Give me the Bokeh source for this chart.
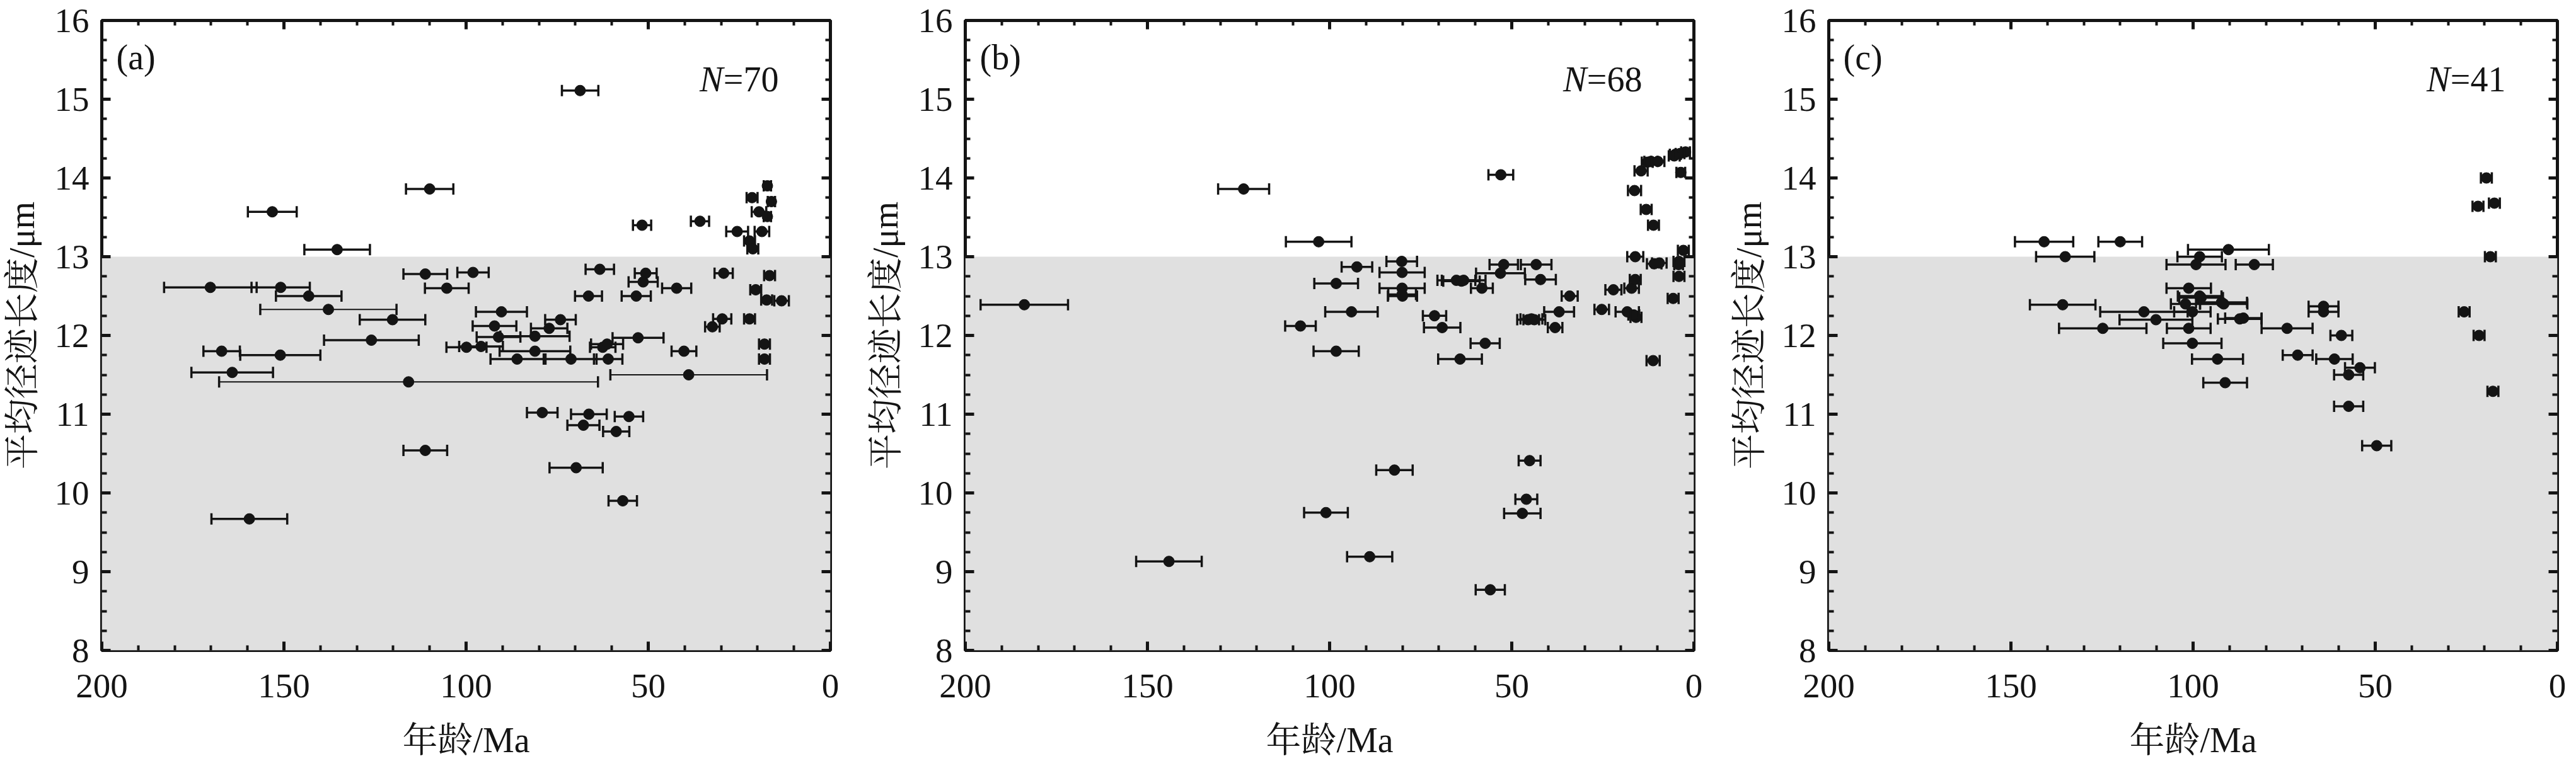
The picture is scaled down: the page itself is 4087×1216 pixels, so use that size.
import numpy as np
from bokeh.plotting import figure
from bokeh.models import (Range1d, LinearAxis, BoxAnnotation, Whisker, TeeHead,
                          ColumnDataSource, Label, FixedTicker, CustomJSTickFormatter)
from bokeh.layouts import row
from bokeh.embed import file_html
from bokeh.resources import INLINE

# ---------------- data ----------------
x_ticks = [0, 50, 100, 150, 200]
y_ticks = [8, 9, 10, 11, 12, 13, 14, 15, 16]
x_label = "年龄/Ma"
y_label = "平均径迹长度/μm"
panel_tags = ["(a)", "(b)", "(c)"]
panel_n = ["70", "68", "41"]
threshold_length = 13

age_a = [68.7, 110.0, 153.2, 135.4, 51.7, 35.8, 25.6, 21.5, 17.3, 16.2,
         19.6, 17.3, 18.8, 22.2, 21.3, 63.3, 111.2, 98.1, 50.7, 29.3,
         16.7, 170.2, 150.9, 143.2, 105.3, 51.4, 42.2, 66.4, 53.3, 20.5,
         17.5, 13.4, 137.8, 90.3, 120.2, 74.1, 77.2, 92.2, 91.1, 81.1,
         126.0, 52.8, 29.7, 32.4, 22.2, 167.1, 151.0, 99.9, 95.9, 81.1,
         62.5, 61.3, 40.2, 18.1, 18.1, 86.0, 71.2, 61.0, 164.2, 115.8,
         38.9, 79.1, 66.3, 55.3, 67.8, 58.8, 111.2, 69.8, 57.0, 159.5]
err_a = [5, 6.5, 6.7, 9, 2.5, 2.5, 3, 1.5, 1, 1,
         2, 1, 2, 1.5, 1.5, 3.9, 6, 4.3, 3, 2.5,
         1.5, 12.7, 8, 9, 6, 4, 4, 3.7, 4, 1.5,
         1.5, 2, 18.7, 7, 9, 4.2, 5, 6, 6, 9.5,
         13, 7, 2.5, 2, 1.5, 5, 11, 5.5, 6, 9.7,
         3.5, 4.4, 3.4, 1.5, 1.5, 7.3, 7, 3.9, 11.2, 52,
         21.5, 4.2, 4.9, 3.9, 4.4, 3.6, 6, 7.3, 3.9, 10.4]
len_a = [15.11, 13.86, 13.57, 13.09, 13.40, 13.45, 13.32, 13.75, 13.90, 13.70,
         13.57, 13.51, 13.32, 13.20, 13.10, 12.84, 12.78, 12.80, 12.79, 12.79,
         12.76, 12.61, 12.61, 12.50, 12.60, 12.68, 12.60, 12.50, 12.50, 12.58,
         12.45, 12.44, 12.33, 12.30, 12.20, 12.20, 12.09, 12.12, 11.98, 11.99,
         11.94, 11.97, 12.21, 12.11, 12.21, 11.80, 11.75, 11.85, 11.86, 11.80,
         11.85, 11.89, 11.80, 11.89, 11.70, 11.70, 11.70, 11.70, 11.53, 11.41,
         11.50, 11.02, 11.00, 10.97, 10.86, 10.78, 10.54, 10.32, 9.90, 9.67]

age_b = [123.6, 103.0, 183.8, 144.1, 53.0, 80.2, 92.5, 80.1, 98.2, 80.1,
         80.0, 94.0, 108.0, 98.2, 71.2, 69.1, 65.2, 63.2, 58.2, 52.2,
         53.1, 43.3, 42.1, 57.3, 64.2, 45.5, 43.8, 37.0, 38.1, 34.1,
         25.3, 22.1, 18.3, 15.9, 17.1, 16.1, 16.1, 10.9, 9.5, 5.7,
         4.1, 4.1, 2.9, 11.2, 16.3, 14.5, 13.1, 11.1, 11.8, 9.9,
         5.1, 2.3, 3.6, 82.2, 45.1, 46.0, 47.1, 101.0, 89.0, 55.9,
         3.8, 12.8, 4.2, 44.6, 63.8, 16.5, 5.4, 80.1]
err_b = [7, 9, 12, 9, 3.4, 4.2, 4.2, 6.2, 6, 6.2,
         4, 7.2, 4.2, 6.2, 3.2, 5, 5.2, 6, 3, 3.9,
         6.7, 4.2, 4.2, 4, 6, 3, 3, 4.1, 2, 2.2,
         2, 2.2, 3.2, 1.5, 2, 1.5, 2.2, 2, 2, 1.5,
         1.5, 1.5, 1.5, 1.8, 1.8, 1.8, 1.5, 1.5, 1.8, 1.8,
         1.5, 1.2, 1.2, 5, 3, 3, 5, 6, 6.2, 4,
         1.2, 1.5, 1.2, 3, 5, 1.5, 1.5, 3.8]
len_b = [13.86, 13.19, 12.39, 9.13, 14.04, 12.94, 12.87, 12.80, 12.66, 12.60,
         12.50, 12.30, 12.12, 11.80, 12.25, 12.10, 12.70, 12.70, 12.60, 12.90,
         12.79, 12.90, 12.71, 11.90, 11.70, 12.20, 12.20, 12.30, 12.10, 12.50,
         12.33, 12.58, 12.30, 12.23, 12.60, 12.71, 13.00, 12.91, 12.92, 12.47,
         12.75, 12.94, 13.08, 11.68, 13.84, 14.09, 13.60, 13.40, 14.21, 14.21,
         14.30, 14.33, 14.07, 10.29, 10.41, 9.92, 9.74, 9.75, 9.19, 8.77,
         14.31, 14.20, 12.90, 12.21, 12.69, 12.26, 14.28, 12.52]

age_c = [140.9, 120.0, 135.1, 90.3, 98.2, 99.2, 83.2, 101.2, 98.2, 102.1,
         92.2, 91.6, 135.8, 113.5, 100.2, 110.2, 87.2, 86.2, 124.8, 101.2,
         74.2, 100.2, 64.2, 64.2, 59.3, 93.3, 71.3, 61.2, 54.2, 57.3,
         91.2, 57.3, 49.6, 19.5, 21.8, 17.3, 18.4, 25.6, 21.5, 17.7, 97.8]
err_c = [8, 6, 8, 11.1, 6.1, 8.1, 5.1, 6.1, 6, 4,
         7, 6.5, 9, 12, 5, 10, 6, 5, 12, 6,
         7, 8, 4.1, 4.1, 3, 7, 4.1, 5, 4.1, 4,
         6, 4, 4, 1.5, 1.5, 1.5, 1.5, 1.5, 1.5, 1.5, 6]
len_c = [13.19, 13.19, 13.00, 13.09, 13.00, 12.90, 12.90, 12.60, 12.50, 12.40,
         12.42, 12.40, 12.39, 12.30, 12.30, 12.20, 12.21, 12.22, 12.09, 12.09,
         12.09, 11.90, 12.37, 12.30, 12.00, 11.70, 11.75, 11.70, 11.59, 11.50,
         11.40, 11.10, 10.60, 14.00, 13.64, 13.68, 13.00, 12.30, 12.00, 11.29, 12.48]

# ---------------- styling ----------------
INK = "#141414"
NUM_FONT = "Liberation Serif"
CJK_FONT = "'Liberation Serif', 'Noto Serif CJK SC', 'Noto Sans CJK SC'"
FRAME_W = 1156


def make_panel(tag, n_text, age, err, length, right_border):
    p = figure(width=161 + FRAME_W + right_border, height=1208,
               x_range=Range1d(200, 0), y_range=Range1d(8, 16),
               output_backend="svg", toolbar_location=None,
               min_border_left=161, min_border_right=right_border,
               min_border_top=32, min_border_bottom=164)
    p.background_fill_color = "white"
    p.border_fill_color = "white"
    p.xgrid.visible = False
    p.ygrid.visible = False
    p.outline_line_color = INK
    p.outline_line_width = 5

    band = BoxAnnotation(bottom=8, top=threshold_length, fill_color="#e0e0e0",
                         fill_alpha=1.0, line_color=None, level="underlay")
    p.add_layout(band)

    xt = FixedTicker(ticks=x_ticks, minor_ticks=list(range(0, 201, 10)))
    yt = FixedTicker(ticks=y_ticks, minor_ticks=list(np.arange(8, 16.001, 0.25)))
    blank = CustomJSTickFormatter(code="return ''")

    xa = p.below[0]
    ya = p.left[0]
    xa.ticker = xt
    ya.ticker = yt

    top = LinearAxis(ticker=xt, formatter=blank)
    right = LinearAxis(ticker=yt, formatter=blank)
    p.add_layout(top, "above")
    p.add_layout(right, "right")

    for ax in [xa, ya, top, right]:
        ax.axis_line_color = None
        ax.major_tick_in = 14
        ax.major_tick_out = 0
        ax.minor_tick_in = 8
        ax.minor_tick_out = 0
        ax.major_tick_line_color = INK
        ax.minor_tick_line_color = INK
        ax.major_tick_line_width = 5
        ax.minor_tick_line_width = 4
        ax.major_label_text_font = NUM_FONT
        ax.major_label_text_font_size = "55px"
        ax.major_label_text_color = INK
    for ax in (top, right):
        ax.major_label_standoff = 0
        ax.major_label_text_font_size = "1px"

    xa.major_label_standoff = 38
    ya.major_label_standoff = 20
    xa.axis_label = x_label
    ya.axis_label = y_label
    for ax in (xa, ya):
        ax.axis_label_text_font = CJK_FONT
        ax.axis_label_text_font_size = "56px"
        ax.axis_label_text_font_style = "normal"
        ax.axis_label_text_color = INK
    xa.axis_label_standoff = 34
    ya.axis_label_standoff = 18

    age = np.array(age, dtype=float)
    err = np.array(err, dtype=float)
    length = np.array(length, dtype=float)
    wide = err > 15
    for mask, lw in ((~wide, 3.5), (wide, 2.2)):
        if not mask.any():
            continue
        src = ColumnDataSource(dict(y=length[mask], lo=age[mask] - err[mask],
                                    hi=age[mask] + err[mask]))
        w = Whisker(source=src, base="y", lower="lo", upper="hi", dimension="width",
                    line_color=INK, line_width=lw, level="glyph",
                    upper_head=TeeHead(size=18, line_color=INK, line_width=3.5),
                    lower_head=TeeHead(size=18, line_color=INK, line_width=3.5))
        p.add_layout(w)

    p.scatter(x=age, y=length, size=17, marker="circle", fill_color=INK,
              line_color=INK, line_width=1)

    p.add_layout(Label(x=196.0, y=15.53, text=tag, text_font=NUM_FONT,
                       text_font_size="56px", text_color=INK,
                       text_align="left", text_baseline="alphabetic"))
    p.add_layout(Label(x=14.2, y=15.25, text="=" + n_text, text_font=NUM_FONT,
                       text_font_size="56px", text_color=INK,
                       text_align="right", text_baseline="alphabetic"))
    p.add_layout(Label(x=14.2, y=15.25, x_offset=-88, text="N", text_font=NUM_FONT,
                       text_font_size="56px", text_font_style="italic", text_color=INK,
                       text_align="right", text_baseline="alphabetic"))
    return p


pa = make_panel(panel_tags[0], panel_n[0], age_a, err_a, len_a, 53)
pb = make_panel(panel_tags[1], panel_n[1], age_b, err_b, len_b, 53)
pc = make_panel(panel_tags[2], panel_n[2], age_c, err_c, len_c, 16)

layout = row(pa, pb, pc)
open("out.html", "w").write(file_html(layout, INLINE))
